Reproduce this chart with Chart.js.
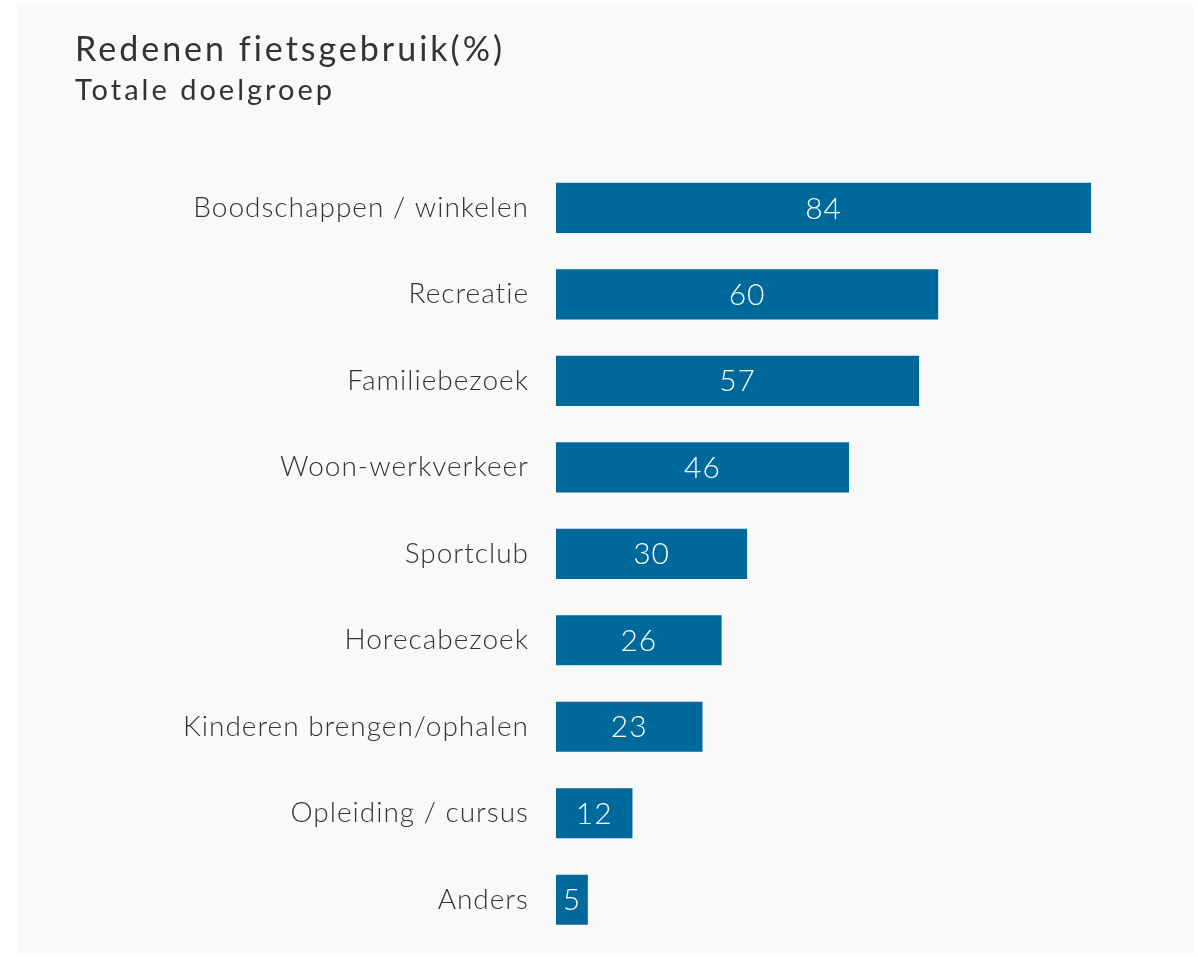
<!DOCTYPE html>
<html>
<head>
<meta charset="utf-8">
<script src="https://cdn.jsdelivr.net/npm/chart.js@4"></script>
<style>
    body { margin: 0; background: #ffffff; }
    #panel {
        position: absolute;
        left: 17px;
        top: 3px;
        width: 1176px;
        height: 952px;
        background: #f9f9f9;
    }
</style>
</head>
<body>
<div id="panel"><canvas id="chartfield" width="1176" height="952"></canvas></div>
<script>
const categories = [
    "Boodschappen / winkelen",
    "Recreatie",
    "Familiebezoek",
    "Woon-werkverkeer",
    "Sportclub",
    "Horecabezoek",
    "Kinderen brengen/ophalen",
    "Opleiding / cursus",
    "Anders",
];
const values = [84, 60, 57, 46, 30, 26, 23, 12, 5];
const titleText = "Redenen fietsgebruik(%)";
const subtitleText = "Totale doelgroep";

const barColor = "#00699b";
const textColor = "#333333";

// the original font is wider than Lato, so space the letters a bit
const letterSpacing = {
    id: "letterSpacing",
    beforeDraw(chart) {
        chart.ctx.letterSpacing = "3px";
    },
    beforeDatasetsDraw(chart) {
        chart.ctx.letterSpacing = "1px";
    },
};

// white value labels in the middle of each bar
const valueLabels = {
    id: "valueLabels",
    afterDatasetsDraw(chart) {
        const ctx = chart.ctx;
        const meta = chart.getDatasetMeta(0);
        ctx.save();
        ctx.fillStyle = "#ffffff";
        ctx.font = "300 30px Lato";
        ctx.textAlign = "center";
        ctx.textBaseline = "middle";
        meta.data.forEach((bar, i) => {
            const mid = (bar.x + bar.base) / 2;
            ctx.fillText(String(values[i]), mid, bar.y + 1);
        });
        ctx.restore();
    },
};

function drawChart(canvas) {
    return new Chart(canvas, {
        type: "bar",
        data: {
            labels: categories,
            datasets: [
                {
                    data: values,
                    backgroundColor: barColor,
                    borderWidth: 0,
                    barPercentage: 0.58,
                    categoryPercentage: 1,
                },
            ],
        },
        options: {
            indexAxis: "y",
            responsive: false,
            animation: false,
            layout: { padding: { left: 58, right: 0, top: 0, bottom: 12 } },
            plugins: {
                legend: { display: false },
                tooltip: { enabled: false },
                title: {
                    display: true,
                    text: titleText,
                    align: "start",
                    color: textColor,
                    font: { family: "Lato", size: 34, weight: "400", lineHeight: 1.2 },
                    padding: { top: 27, bottom: 0 },
                },
                subtitle: {
                    display: true,
                    text: subtitleText,
                    align: "start",
                    color: textColor,
                    font: { family: "Lato", size: 29, weight: "400", lineHeight: 1.2 },
                    padding: { top: 2, bottom: 57 },
                },
            },
            scales: {
                x: { display: false, min: 0, max: 100 },
                y: {
                    grid: { display: false, drawTicks: false },
                    border: { display: false },
                    ticks: {
                        z: 1,
                        color: textColor,
                        padding: 27,
                        font: { family: "Lato", size: 28, weight: "300" },
                    },
                    afterFit(scale) {
                        scale.width = 481;
                        scale.paddingTop = 0;
                        scale.paddingBottom = 0;
                    },
                },
            },
        },
        plugins: [letterSpacing, valueLabels],
    });
}

document.fonts.load("300 28px Lato").then(() => {
    drawChart(document.querySelector("#chartfield").getContext("2d"));
});
</script>
</body>
</html>
